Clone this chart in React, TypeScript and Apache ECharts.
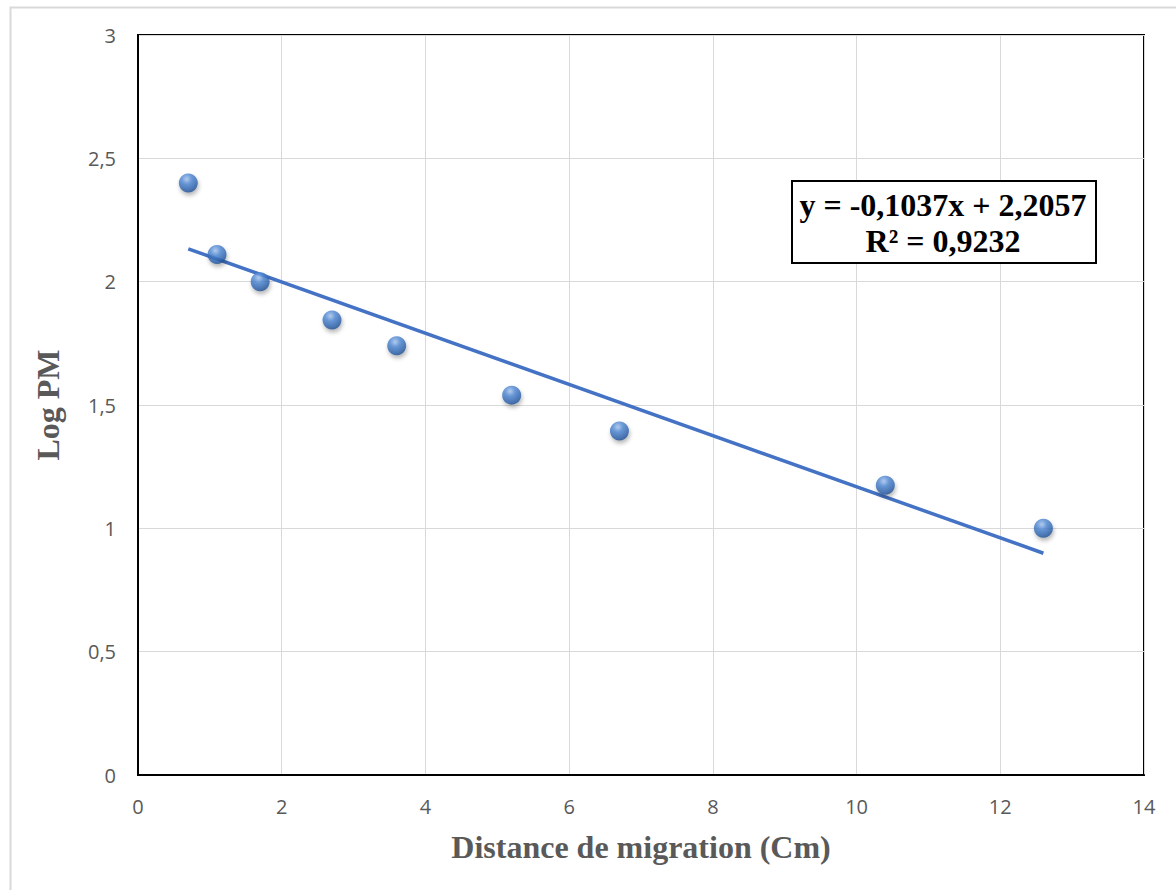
import React, { useEffect, useRef } from "react";
import * as echarts from "echarts";

const distances = [0.7, 1.1, 1.7, 2.7, 3.6, 5.2, 6.7, 10.4, 12.6];
const logPM = [2.4, 2.11, 2.0, 1.845, 1.74, 1.54, 1.395, 1.175, 1.0];
const slope = -0.1037;
const intercept = 2.2057;
const rSquared = "0,9232";
const xTitle = "Distance de migration (Cm)";
const yTitle = "Log PM";

const fmt = (v: number) => String(v).replace(".", ",");

export default function App() {
  const ref = useRef<HTMLDivElement>(null);
  useEffect(() => {
    const chart = echarts.init(ref.current!, null, { renderer: "svg" });
    const xs = [Math.min(...distances), Math.max(...distances)];
    const trend = xs.map((x) => [x, slope * x + intercept]);
    const eq1 = `y = ${fmt(slope)}x + ${fmt(intercept)}`;
    const eq2 = `R² = ${rSquared}`;
    chart.setOption({
      animation: false,
      backgroundColor: "#ffffff",
      grid: {
        left: 138,
        top: 35,
        right: 32,
        bottom: 115,
        show: true,
        borderColor: "#000000",
        borderWidth: 2,
        backgroundColor: "transparent",
      },
      xAxis: {
        type: "value",
        min: 0,
        max: 14,
        interval: 2,
        name: xTitle,
        nameLocation: "middle",
        nameGap: 56,
        nameTextStyle: {
          fontFamily: "Liberation Serif",
          fontWeight: "bold",
          fontSize: 32,
          color: "#595959",
        },
        axisLine: { show: true, lineStyle: { color: "#000", width: 2 } },
        axisTick: { show: false },
        axisLabel: {
          fontFamily: "Open Sans",
          fontSize: 20,
          color: "#595959",
          margin: 21,
        },
        splitLine: { show: true, lineStyle: { color: "#d9d9d9", width: 1 } },
      },
      yAxis: {
        type: "value",
        min: 0,
        max: 3,
        interval: 0.5,
        name: yTitle,
        nameLocation: "middle",
        nameGap: 74,
        nameRotate: 90,
        nameTextStyle: {
          fontFamily: "Liberation Serif",
          fontWeight: "bold",
          fontSize: 32,
          color: "#595959",
        },
        axisLine: { show: true, lineStyle: { color: "#000", width: 2 } },
        axisTick: { show: false },
        axisLabel: {
          fontFamily: "Open Sans",
          fontSize: 20,
          color: "#595959",
          margin: 22,
          formatter: (v: number) => fmt(v),
        },
        splitLine: { show: true, lineStyle: { color: "#d9d9d9", width: 1 } },
      },
      series: [
        {
          type: "line",
          data: trend,
          showSymbol: false,
          symbol: "none",
          lineStyle: { color: "#4472c4", width: 3.5 },
          z: 2,
        },
        {
          type: "scatter",
          data: distances.map((x, i) => [x, logPM[i]]),
          symbolSize: 19,
          z: 3,
          itemStyle: {
            color: {
              type: "radial",
              x: 0.42,
              y: 0.3,
              r: 0.75,
              colorStops: [
                { offset: 0, color: "#a8c6f0" },
                { offset: 0.35, color: "#4f88d4" },
                { offset: 0.8, color: "#2a5ea8" },
                { offset: 1, color: "#1c4680" },
              ],
            },
            shadowColor: "rgba(0,0,0,0.35)",
            shadowBlur: 4,
            shadowOffsetY: 3,
            shadowOffsetX: 1,
          },
        },
      ],
      graphic: [
        {
          type: "rect",
          left: 8,
          top: 5,
          shape: { width: 1190, height: 900 },
          style: { fill: "none", stroke: "#d9d9d9", lineWidth: 2 },
          silent: true,
          z: -10,
        },
        {
          type: "rect",
          left: 791,
          top: 180,
          shape: { width: 304, height: 82 },
          style: { fill: "#ffffff", stroke: "#000000", lineWidth: 2 },
          z: 10,
        },
        {
          type: "text",
          x: 943,
          y: 205,
          style: {
            text: eq1,
            font: "bold 32px 'Liberation Serif'",
            fill: "#000000",
            textAlign: "center",
            textVerticalAlign: "middle",
          },
          z: 11,
        },
        {
          type: "text",
          x: 943,
          y: 241,
          style: {
            text: eq2,
            font: "bold 32px 'Liberation Serif'",
            fill: "#000000",
            textAlign: "center",
            textVerticalAlign: "middle",
          },
          z: 11,
        },
      ],
    });
    return () => chart.dispose();
  }, []);
  return (
    <div
      ref={ref}
      style={{ position: "absolute", left: 0, top: 0, width: 1176, height: 890 }}
    />
  );
}
